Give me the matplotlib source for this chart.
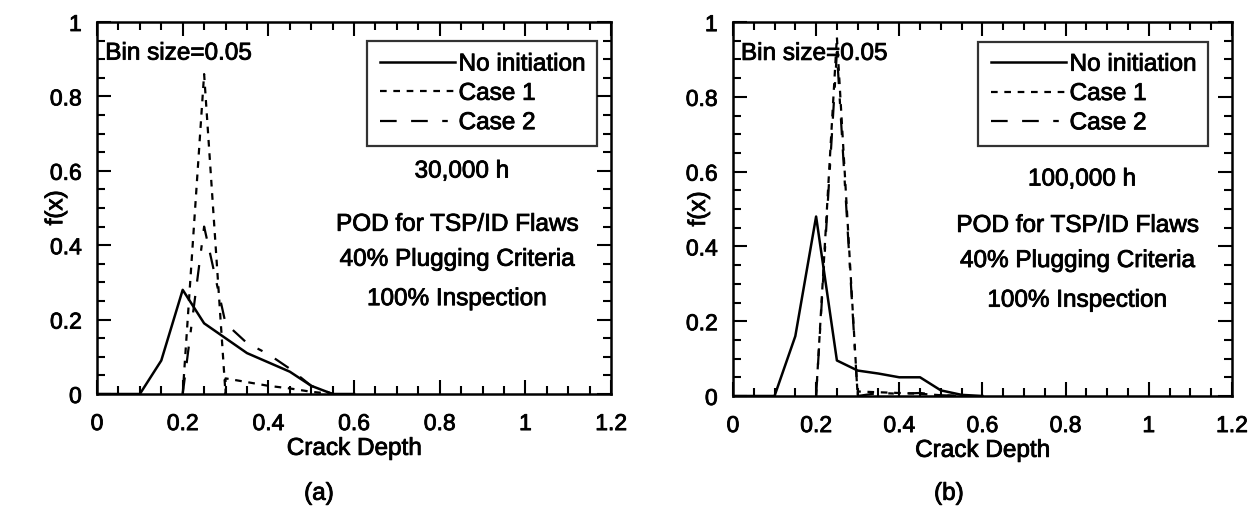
import matplotlib.pyplot as plt
import matplotlib.patheffects as pe
from matplotlib.ticker import MultipleLocator, FuncFormatter

plt.rcParams['font.family'] = ['Liberation Sans', 'DejaVu Sans']
# scanned-print look: slightly heavier glyphs
plt.rcParams['path.effects'] = []

# crack depth distributions, bin size 0.05
depth = [0.0, 0.05, 0.1, 0.15, 0.2, 0.25, 0.3, 0.35, 0.4, 0.45, 0.5, 0.55, 0.6]

# (a) 30,000 h
a_no_init = [0, 0, 0, 0.09, 0.28, 0.19, 0.15, 0.11, 0.085, 0.06, 0.022, 0, 0]
a_case1_x = [0.2, 0.25, 0.3, 0.3, 0.35, 0.4, 0.45, 0.5, 0.55]
a_case1 = [0, 0.86, 0, 0.042, 0.032, 0.022, 0.015, 0.006, 0]
a_case2_x = [0.2, 0.25, 0.3, 0.35, 0.4, 0.45, 0.5, 0.55]
a_case2 = [0, 0.45, 0.19, 0.137, 0.107, 0.068, 0.022, 0]

# (b) 100,000 h
b_no_init = [0, 0, 0, 0.16, 0.48, 0.095, 0.068, 0.06, 0.05, 0.05, 0.015, 0.003, 0]
b_case1_x = [0.2, 0.25, 0.3, 0.3, 0.35, 0.4, 0.45, 0.5, 0.55]
b_case1 = [0, 0.96, 0, 0.012, 0.01, 0.008, 0.006, 0.002, 0]
b_case2_x = [0.2, 0.25, 0.3, 0.35, 0.4, 0.45, 0.5, 0.55]
b_case2 = [0, 0.92, 0, 0.008, 0.006, 0.008, 0.002, 0]

labels = ['No initiation', 'Case 1', 'Case 2']
hours = ['30,000 h', '100,000 h']
notes = ['POD for TSP/ID Flaws', '40% Plugging Criteria', '100% Inspection']

FS = 17.5
TICK_FS = 16.5
heavy = [pe.withStroke(linewidth=0.6, foreground='black')]
short_dash = (0, (3, 3))
long_dash = (0, (7.5, 6.5, 7.5, 6.5, 2.5, 6.5))

fig = plt.figure(figsize=(12.6, 5.08), dpi=100)
ax_a = fig.add_axes([0.077, 0.2244, 0.408, 0.7323])
ax_b = fig.add_axes([0.5817, 0.2205, 0.396, 0.736])


def fmt(v, pos):
    return ('%g' % round(v, 2))


def style(ax, ylab_x):
    ax.set_xlim(0, 1.2)
    ax.set_ylim(0, 1)
    ax.xaxis.set_major_locator(MultipleLocator(0.2))
    ax.xaxis.set_minor_locator(MultipleLocator(0.05))
    ax.yaxis.set_major_locator(MultipleLocator(0.2))
    ax.yaxis.set_minor_locator(MultipleLocator(0.05))
    ax.xaxis.set_major_formatter(FuncFormatter(fmt))
    ax.yaxis.set_major_formatter(FuncFormatter(fmt))
    ax.tick_params(which='both', direction='in', top=True, right=True,
                   width=1.5, labelsize=TICK_FS, color='black')
    ax.tick_params(which='major', length=10)
    ax.tick_params(which='minor', length=6)
    ax.tick_params(axis='x', pad=13)
    ax.tick_params(axis='y', pad=11)
    for s in ax.spines.values():
        s.set_linewidth(1.8)
    for lab in ax.get_xticklabels() + ax.get_yticklabels():
        lab.set_path_effects(heavy)
    ax.set_xlabel('Crack Depth', fontsize=FS, labelpad=2, path_effects=heavy)
    ax.set_ylabel('f(x)', fontsize=FS, path_effects=heavy)
    ax.yaxis.set_label_coords(ylab_x, 0.5)


def panel(ax, no_init, c1x, c1, c2x, c2, hour, hy, leg_x, txt_x, ylab_x):
    ax.plot(depth, no_init, color='black', lw=1.8, label=labels[0])
    ax.plot(c1x, c1, color='black', lw=1.6, linestyle=short_dash, label=labels[1])
    ax.plot(c2x, c2, color='black', lw=1.6, linestyle=long_dash, label=labels[2])
    style(ax, ylab_x)
    ax.text(0.016, 0.915, 'Bin size=0.05', transform=ax.transAxes,
            fontsize=FS, va='center', ha='left', path_effects=heavy)
    leg = ax.legend(loc='upper left', bbox_to_anchor=(leg_x, 0.948), fontsize=FS,
                    frameon=True, fancybox=False, edgecolor='black',
                    handlelength=3.1, handletextpad=0.15, labelspacing=0.3,
                    borderpad=0.5, borderaxespad=0)
    leg.get_frame().set_linewidth(1.6)
    for t in leg.get_texts():
        t.set_path_effects(heavy)
    ax.text(txt_x + 0.01, hy, hour, transform=ax.transAxes, fontsize=FS,
            ha='center', va='center', path_effects=heavy)
    for t, y in zip(notes, [0.455, 0.361, 0.255]):
        ax.text(txt_x, y, t, transform=ax.transAxes, fontsize=FS,
                ha='center', va='center', path_effects=heavy)


panel(ax_a, a_no_init, a_case1_x, a_case1, a_case2_x, a_case2,
      hours[0], 0.598, 0.526, 0.70, -0.058)
panel(ax_b, b_no_init, b_case1_x, b_case1, b_case2_x, b_case2,
      hours[1], 0.579, 0.492, 0.69, -0.046)

fig.text(0.253, 0.028, '(a)', fontsize=FS, ha='center', va='center', path_effects=heavy)
fig.text(0.753, 0.028, '(b)', fontsize=FS, ha='center', va='center', path_effects=heavy)

fig.savefig('out.png', dpi=100)
